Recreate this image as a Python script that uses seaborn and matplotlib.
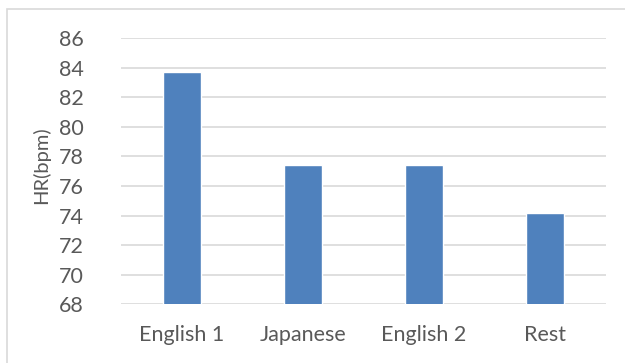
import matplotlib
matplotlib.use("Agg")
import matplotlib.pyplot as plt
import seaborn as sns
import pandas as pd
from matplotlib.patches import Rectangle

categories = ["English 1", "Japanese", "English 2", "Rest"]
hr_values = [83.7, 77.4, 77.4, 74.2]
y_ticks = [68, 70, 72, 74, 76, 78, 80, 82, 84, 86]

sns.set_theme(style="white")
plt.rcParams["font.family"] = ["Lato", "DejaVu Sans"]

df = pd.DataFrame({"cat": categories, "hr": hr_values})

fig = plt.figure(figsize=(6.25, 3.63), dpi=100)
ax = fig.add_axes([121.3 / 625, 1 - 304.3 / 363, (605.7 - 121.3) / 625, (304.3 - 38) / 363])

sns.barplot(data=df, x="cat", y="hr", color="#4F81BD", width=0.31, saturation=1,
            ax=ax, zorder=3)
ax.set_ylim(68, 86)
ax.set_yticks(y_ticks)
ax.set_xlim(-0.5, 3.5)
ax.grid(axis="y", color="#D9D9D9", linewidth=1.2, zorder=0)
ax.set_axisbelow(True)
for s in ax.spines.values():
    s.set_visible(False)
ax.tick_params(axis="both", length=0, colors="#595959", labelsize=15.5)
ax.tick_params(axis="y", pad=27)
ax.tick_params(axis="x", pad=15)
ax.set_xlabel("")
ax.set_ylabel("HR(bpm)", color="#595959", fontsize=14.5)
ax.yaxis.set_label_coords(-0.147, 0.523)

fig.patches.append(Rectangle((7 / 625, -0.1), 1.2, (1 - 9 / 363) + 0.1,
                             transform=fig.transFigure, fill=False,
                             edgecolor="#D9D9D9", linewidth=1.2))
fig.savefig("out.png", dpi=100)
